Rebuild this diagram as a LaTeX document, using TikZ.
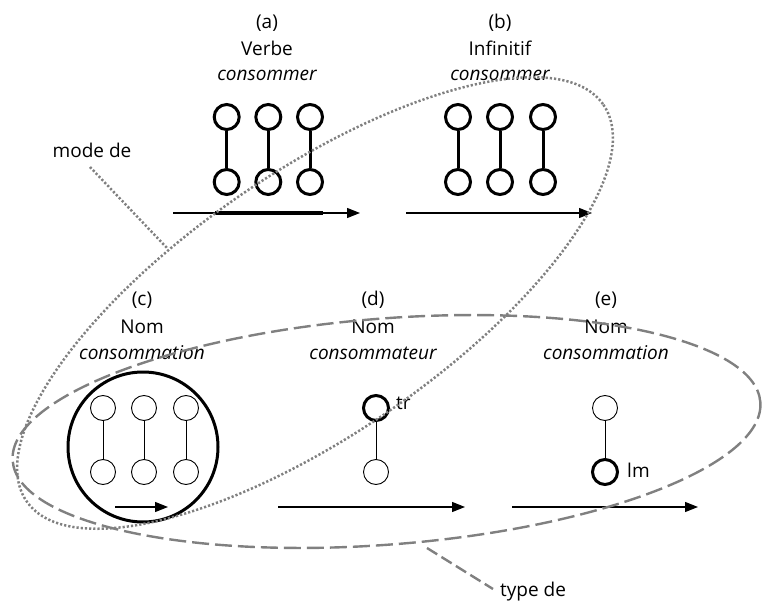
\documentclass[tikz,border=0pt]{standalone}
\usepackage{fontspec}
\setmainfont{Open Sans}
\usetikzlibrary{arrows.meta,shapes.geometric}
\definecolor{ellgray}{RGB}{128,128,128}
\tikzset{
  lbl/.style={font=\fontsize{19}{21}\selectfont, inner sep=0pt},
  ilbl/.style={font=\fontsize{19}{21}\selectfont\itshape, inner sep=0pt},
  thk/.style={circle, draw, line width=3pt, minimum size=25pt, inner sep=0pt},
  thn/.style={circle, draw, line width=0.9pt, minimum size=25pt, inner sep=0pt},
  thkbar/.style={line width=3pt},
  thnbar/.style={line width=0.9pt},
  timearrow/.style={line width=1.2pt, -{Triangle[length=13pt,width=10pt]}},
  dotell/.style={draw=ellgray, line width=2.5pt, dash pattern=on 2.2pt off 2pt},
  dashell/.style={draw=ellgray, line width=2.4pt, dash pattern=on 17pt off 6pt},
}
\begin{document}
\begin{tikzpicture}[x=1pt,y=-1pt]
\useasboundingbox (0,0) rectangle (762,601);

% (a)
\node[lbl] (ta1) at (267,23) {(a)};
\node[lbl] (ta2) at (267,48) {Verbe};
\node[ilbl] (ta3) at (267,75) {consommer};
\foreach \i/\x in {1/226.7,2/268.3,3/310} {
  \node[thk] (a\i t) at (\x,117) {};
  \node[thk] (a\i b) at (\x,182) {};
  \draw[thkbar] (a\i t) -- (a\i b);
}
\coordinate (aS) at (173,213);
\coordinate (aE) at (360,213);
\coordinate (aT1) at (215,213);
\coordinate (aT2) at (323,213);
\draw[timearrow] (aS) -- (aE);
\draw[line width=4pt] (aT1) -- (aT2);

% (b)
\node[lbl] (tb1) at (500,23) {(b)};
\node[lbl] (tb2) at (500,48) {Infinitif};
\node[ilbl] (tb3) at (500,75) {consommer};
\foreach \i/\x in {1/458,2/500,3/543} {
  \node[thk] (b\i t) at (\x,117) {};
  \node[thk] (b\i b) at (\x,182) {};
  \draw[thkbar] (b\i t) -- (b\i b);
}
\coordinate (bS) at (406,213);
\coordinate (bE) at (592,213);
\draw[timearrow] (bS) -- (bE);

% (c)
\node[lbl] (tc1) at (142,300) {(c)};
\node[lbl] (tc2) at (142,327) {Nom};
\node[ilbl] (tc3) at (142,353) {consommation};
\node[circle, draw, line width=3pt, minimum size=150pt, inner sep=0pt] (cbig) at (143,447) {};
\foreach \i/\x in {1/103,2/144,3/186} {
  \node[thn] (c\i t) at (\x,408) {};
  \node[thn] (c\i b) at (\x,472) {};
  \draw[thnbar] (c\i t) -- (c\i b);
}
\coordinate (cS) at (115,507);
\coordinate (cE) at (168,507);
\draw[timearrow] (cS) -- (cE);

% (d)
\node[lbl] (td1) at (373,300) {(d)};
\node[lbl] (td2) at (373,327) {Nom};
\node[ilbl] (td3) at (373,353) {consommateur};
\node[thk] (dt) at (376,408) {};
\node[thn] (db) at (376,472) {};
\draw[thnbar] (dt) -- (db);
\node[lbl, anchor=west] (tr) at (396,403) {tr};
\coordinate (dS) at (278,507);
\coordinate (dE) at (465,507);
\draw[timearrow] (dS) -- (dE);

% (e)
\node[lbl] (te1) at (606,300) {(e)};
\node[lbl] (te2) at (606,327) {Nom};
\node[ilbl] (te3) at (606,353) {consommation};
\node[thn] (et) at (605,408) {};
\node[thk] (eb) at (605,472) {};
\draw[thnbar] (et) -- (eb);
\node[lbl, anchor=west] (lm) at (627,470) {lm};
\coordinate (eS) at (512,507);
\coordinate (eE) at (698,507);
\draw[timearrow] (eS) -- (eE);

% mode de (dotted ellipse)
\draw[dotell, rotate around={34.5:(315,303)}] (315,303) ellipse [x radius=350, y radius=131];
\node[lbl] (mode) at (92,150) {mode de};
\coordinate (modeEnd) at (167,248);
\coordinate (modeStart) at (90,167);
\draw[dotell] (modeStart) -- (modeEnd);

% type de (dashed ellipse)
\draw[dashell, rotate around={4.5:(386.5,431.5)}] (386.5,431.5) ellipse [x radius=375, y radius=113];
\node[lbl, anchor=west] (type) at (500,592) {type de};
\coordinate (typeStart) at (427,548);
\coordinate (typeEnd) at (493,589);
\draw[draw=ellgray, line width=2.4pt, dash pattern=on 12pt off 5pt] (typeStart) -- (typeEnd);
\end{tikzpicture}
\end{document}
